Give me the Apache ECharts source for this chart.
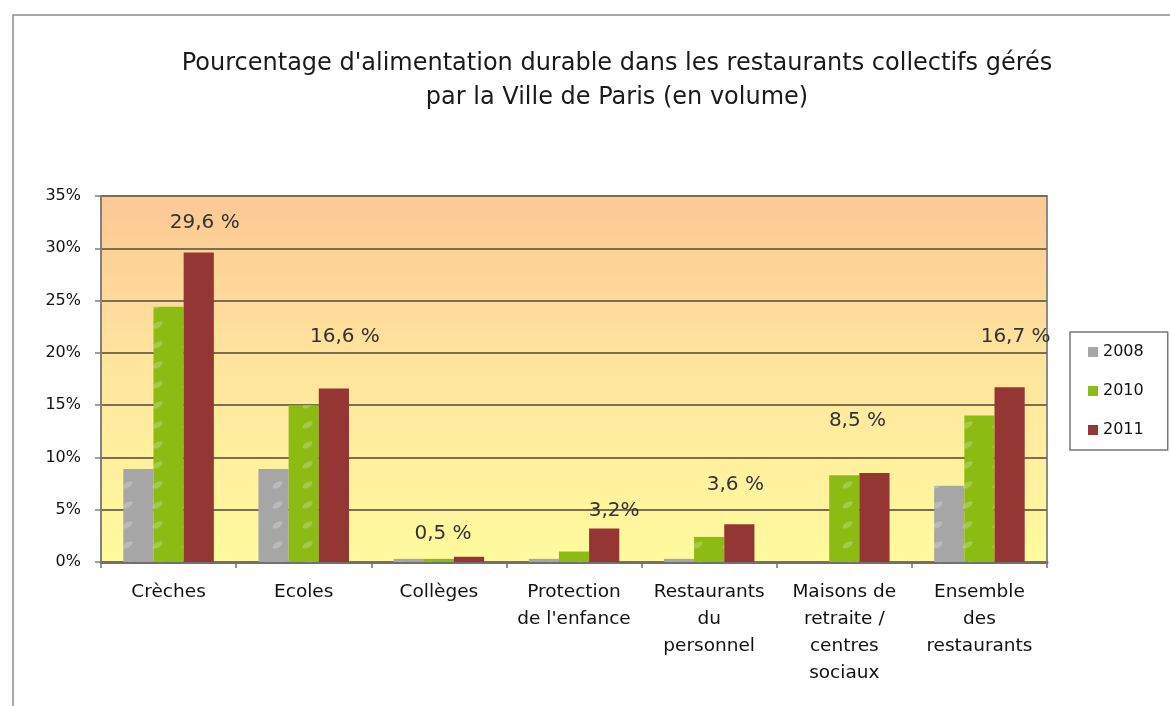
<!DOCTYPE html>
<html>
<head>
<meta charset="utf-8">
<script src="https://cdn.jsdelivr.net/npm/echarts@6/dist/echarts.min.js"></script>
<style>
  html, body { margin: 0; padding: 0; background: #fff; }
  #chart { width: 1170px; height: 706px; }
</style>
</head>
<body>
<div id="chart"></div>
<script>
// categories on the x axis
const categories = [
  "Crèches",
  "Ecoles",
  "Collèges",
  "Protection\nde l'enfance",
  "Restaurants\ndu\npersonnel",
  "Maisons de\nretraite /\ncentres\nsociaux",
  "Ensemble\ndes\nrestaurants",
];
const years = ["2008", "2010", "2011"];
// values in %
const data2008 = [8.9, 8.9, 0.3, 0.3, 0.3, 0, 7.3];
const data2010 = [24.4, 15.0, 0.3, 1.0, 2.4, 8.3, 14.0];
const data2011 = [29.6, 16.6, 0.5, 3.2, 3.6, 8.5, 16.7];
const labels2011 = ["29,6 %", "16,6 %", "0,5 %", "3,2%", "3,6 %", "8,5 %", "16,7 %"];
const yTicks = [0, 5, 10, 15, 20, 25, 30, 35];

const colors = ["#A6A6A6", "#8CBB14", "#943634"];
// label offsets (texte placé à la main dans l'original)
const labelOffsets = [[6, -20], [11, -42], [-26, -13], [10, -8], [-4, -30], [-17, -42], [6, -41]];

const leafDecal = {
  symbol: "path://M2,9 C2,3 9,0 14,1 C14,7 7,10 2,9 Z",
  symbolSize: 0.7,
  color: "rgba(255,255,255,0.22)",
  dashArrayX: [[15, 15]],
  dashArrayY: [10, 9.6],
};

const chart = echarts.init(document.getElementById("chart"));
const font = "DejaVu Sans";

const option = {
  animation: false,
  color: colors,
  title: {
    text: "Pourcentage d'alimentation durable dans les restaurants collectifs gérés\npar la Ville de Paris (en volume)",
    left: 612,
    textAlign: "center",
    top: 42,
    textStyle: {
      fontFamily: font,
      fontWeight: "normal",
      fontSize: 24,
      lineHeight: 34,
      color: "#1a1a1a",
    },
  },
  graphic: [
    {
      type: "rect",
      shape: { x: 13, y: 15, width: 1200, height: 720 },
      style: { fill: "none", stroke: "#8c8c8c", lineWidth: 1.5 },
      silent: true,
    },
  ],
  legend: {
    data: years,
    orient: "vertical",
    left: 1070,
    top: 332,
    padding: [12, 24, 12, 18],
    itemGap: 23,
    itemWidth: 10,
    itemHeight: 10,
    borderColor: "#777",
    borderWidth: 1.5,
    backgroundColor: "#fff",
    icon: "rect",
    itemStyle: { decal: "none" },
    textStyle: { fontFamily: font, fontSize: 16, color: "#111" },
  },
  grid: {
    left: 101,
    right: 123,
    top: 196,
    bottom: 144,
    show: true,
    borderColor: "#8a8a8a",
    borderWidth: 2,
    backgroundColor: new echarts.graphic.LinearGradient(0, 0, 0, 1, [
      { offset: 0, color: "#FCC894" },
      { offset: 0.45, color: "#FFE49E" },
      { offset: 1, color: "#FFFB9E" },
    ]),
  },
  xAxis: {
    type: "category",
    data: categories,
    axisLine: { lineStyle: { color: "#707070", width: 3 } },
    axisTick: { show: true, length: 6, lineStyle: { color: "#707070", width: 1.5 } },
    axisLabel: {
      interval: 0,
      margin: 17,
      fontFamily: font,
      fontSize: 18.5,
      lineHeight: 27,
      color: "#111",
    },
  },
  yAxis: {
    type: "value",
    min: yTicks[0],
    max: yTicks[yTicks.length - 1],
    interval: 5,
    axisLine: { show: true, lineStyle: { color: "#808080", width: 2 } },
    axisTick: { show: true, length: 6, lineStyle: { color: "#808080", width: 1.5 } },
    axisLabel: {
      formatter: "{value}%",
      margin: 20,
      fontFamily: font,
      fontSize: 16,
      color: "#111",
    },
    splitLine: { lineStyle: { color: "#7A7050", width: 2 } },
  },
  series: [
    {
      name: years[0],
      type: "bar",
      data: data2008,
      barGap: "0%",
      barCategoryGap: "33%",
      itemStyle: { color: colors[0], decal: leafDecal },
    },
    {
      name: years[1],
      type: "bar",
      data: data2010,
      barGap: "0%",
      barCategoryGap: "33%",
      itemStyle: { color: colors[1], decal: leafDecal },
    },
    {
      name: years[2],
      type: "bar",
      barGap: "0%",
      barCategoryGap: "33%",
      itemStyle: { color: colors[2] },
      data: data2011.map((v, i) => ({
        value: v,
        label: { offset: labelOffsets[i] },
      })),
      label: {
        show: true,
        position: "top",
        distance: 0,
        fontFamily: font,
        fontSize: 20,
        color: "#333",
        formatter: (p) => labels2011[p.dataIndex],
      },
    },
  ],
};

chart.setOption(option);
</script>
</body>
</html>
